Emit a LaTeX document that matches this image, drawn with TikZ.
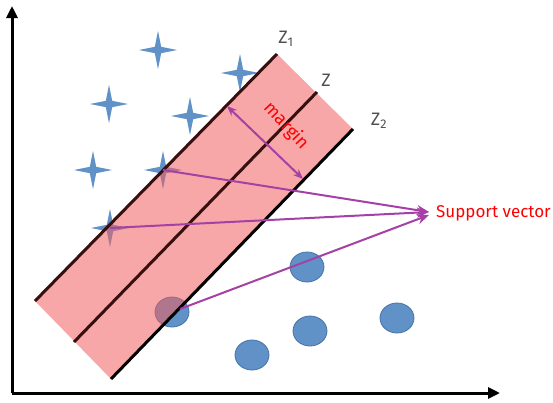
\documentclass[tikz,border=0pt]{standalone}
\usepackage{fontspec}
\setmainfont{Fira Sans}
\usepackage{xcolor}
\usetikzlibrary{arrows.meta,shapes.geometric,positioning}
\definecolor{ptblue}{RGB}{96,146,200}
\definecolor{ptedge}{RGB}{70,115,165}
\definecolor{bandpink}{RGB}{240,95,95}
\definecolor{svpurple}{RGB}{165,65,165}
\definecolor{zgray}{RGB}{80,80,80}
\definecolor{zline}{RGB}{55,15,15}

\begin{document}
\begin{tikzpicture}[x=1pt, y=-1pt,
  starpt/.style={star, star points=4, star point ratio=4.2, minimum size=38pt, inner sep=0pt, fill=ptblue},
  dotpt/.style={ellipse, minimum width=34pt, minimum height=30pt, inner sep=0pt, fill=ptblue, draw=ptedge, line width=0.8pt},
  axis/.style={line width=3pt, -{Triangle[length=12pt,width=11pt]}},
  hyper/.style={line width=3pt, draw=#1},
  sv/.style={svpurple, line width=2pt, -{Stealth[length=12pt,width=10pt]}},
  zlbl/.style={font=\fontsize{18}{20}\selectfont, text=zgray, inner sep=0pt}
]
\useasboundingbox (0,0) rectangle (553,402);

% axes
\coordinate (o) at (12,393);
\coordinate (ytop) at (12,6);
\coordinate (xend) at (500,393);
\draw[axis] (o) -- (ytop);
\draw[axis] (o) -- (xend);

% class +1
\foreach \n/\px/\py in {1/158/50, 2/240/73, 3/109/104, 4/190/116, 5/93/170, 6/163/170, 7/110/228}
  \node[starpt] (s\n) at (\px,\py) {};

% class -1
\foreach \n/\px/\py in {1/307/267, 2/172/312, 3/310/331, 4/397/318, 5/252/355}
  \node[dotpt] (c\n) at (\px,\py) {};

% band
\coordinate (z1a) at (35,301);
\coordinate (z1b) at (277,54);
\coordinate (za) at (74,342);
\coordinate (zb) at (317,92);
\coordinate (z2a) at (111,379);
\coordinate (z2b) at (353,129);
\fill[bandpink, fill opacity=0.55] (z1a) -- (z1b) -- (z2b) -- (z2a) -- cycle;
\draw[hyper=zline] (z1a) -- (z1b);
\draw[hyper=zline] (za) -- (zb);
\draw[hyper=black] (z2a) -- (z2b);

\node[zlbl] (lz1) at (286,39) {Z\textsubscript{1}};
\node[zlbl] (lz) at (326,80) {Z};
\node[zlbl] (lz2) at (379,121) {Z\textsubscript{2}};

% margin
\coordinate (m1) at (227,106);
\coordinate (m2) at (303,179);
\draw[svpurple, line width=2pt, {Stealth[length=10pt,width=8pt]}-{Stealth[length=10pt,width=8pt]}] (m1) -- (m2);
\node[rotate=-47, text=red, font=\fontsize{18}{20}\selectfont, inner sep=0pt] (mg) at (286,126) {margin};

% support vectors
\node[text=red, anchor=west, font=\fontsize{17}{20}\selectfont, inner sep=0pt] (sv) at (436,213) {Support vector};
\coordinate (tip1) at (429,212);
\coordinate (tip2) at (429,215);
\draw[sv] (s6.center) -- (tip1);
\draw[sv] (s7.center) -- (tip1);
\draw[sv] ([xshift=8pt,yshift=3pt]c2.center) -- (tip2);
\end{tikzpicture}
\end{document}
